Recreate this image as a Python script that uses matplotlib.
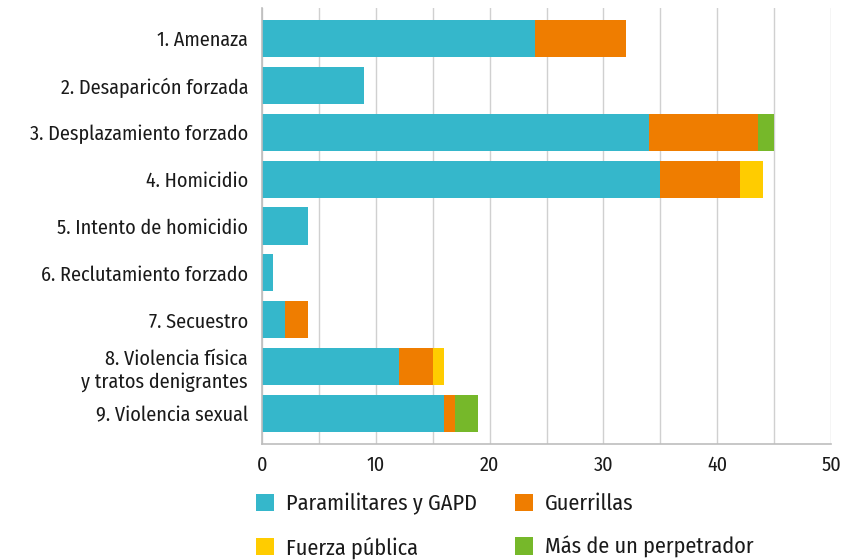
import matplotlib.pyplot as plt
import numpy as np

categories = ["1. Amenaza", "2. Desaparicón forzada", "3. Desplazamiento forzado",
              "4. Homicidio", "5. Intento de homicidio", "6. Reclutamiento forzado",
              "7. Secuestro", "8. Violencia física\ny tratos denigrantes",
              "9. Violencia sexual"]
paramilitares = [24, 9, 34, 35, 4, 1, 2, 12, 16]
guerrillas = [8, 0, 9.6, 7, 0, 0, 2, 3, 1]
fuerza_publica = [0, 0, 0, 2, 0, 0, 0, 1, 0]
mas_de_uno = [0, 0, 1.4, 0, 0, 0, 0, 0, 2]

series = [
    ("Paramilitares y GAPD", paramilitares, "#35B7CB"),
    ("Guerrillas", guerrillas, "#EF7D00"),
    ("Fuerza pública", fuerza_publica, "#FFCC00"),
    ("Más de un perpetrador", mas_de_uno, "#76B82A"),
]

plt.rcParams['font.family'] = ['Fira Sans Condensed', 'DejaVu Sans']
plt.rcParams['font.size'] = 14.5
plt.rcParams['text.color'] = '#1a1a1a'

fig = plt.figure(figsize=(8.47, 5.6), dpi=100)
ax = fig.add_axes([262/847, 1-444/560, (831-262)/847, (444-8)/560])

y = np.arange(len(categories))
left = np.zeros(len(categories))
handles = {}
for name, vals, color in series:
    vals = np.array(vals, dtype=float)
    h = ax.barh(y, vals, left=left, height=0.79, color=color, label=name)
    handles[name] = h
    left += vals

ax.set_ylim(len(categories) - 1 + 0.65, -0.65)
ax.set_xlim(0, 50)
ax.set_xticks(np.arange(0, 51, 10))
ax.set_xticks(np.arange(0, 51, 5), minor=True)
ax.set_yticks(y)
ax.set_yticklabels(categories)
ax.grid(axis='x', which='both', color='#d0d0d0', linewidth=1)
ax.set_axisbelow(True)
ax.tick_params(axis='both', which='both', length=0, labelsize=14.5, colors='#1a1a1a')
ax.tick_params(axis='x', pad=8)
ax.tick_params(axis='y', pad=10)
for s in ['top', 'right']:
    ax.spines[s].set_visible(False)
for s in ['left', 'bottom']:
    ax.spines[s].set_color('#bdbdbd')
    ax.spines[s].set_linewidth(1.2)

order = ["Paramilitares y GAPD", "Fuerza pública", "Guerrillas", "Más de un perpetrador"]
fig.legend([handles[n] for n in order], order, ncol=2, loc='upper left',
           bbox_to_anchor=(256/847, 1-493/560), frameon=False, fontsize=16,
           borderpad=0, borderaxespad=0,
           handlelength=0.81, handleheight=0.81, columnspacing=1.7,
           labelspacing=0.95, handletextpad=0.54)

fig.savefig("out.png", dpi=100)
